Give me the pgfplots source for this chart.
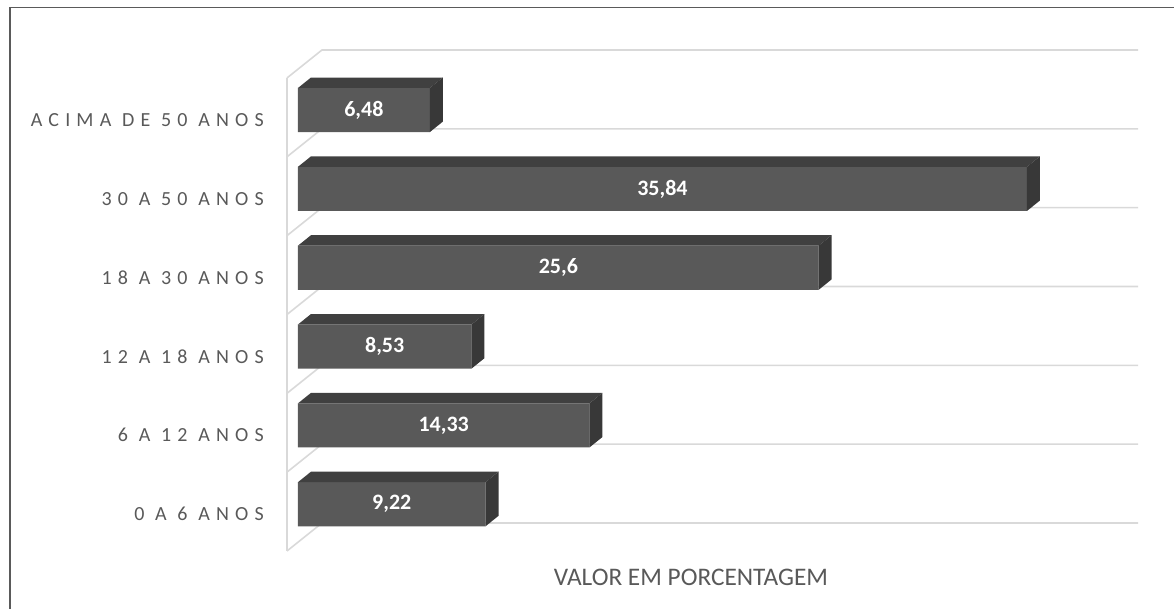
\documentclass[border=0pt]{standalone}
\usepackage{fontspec}
\setmainfont{Carlito}
\newfontfamily\catfont[LetterSpace=31]{Carlito}
\usepackage{pgfplots}
\usepackage{pgfplotstable}
\pgfplotsset{compat=1.18}
\definecolor{frontc}{HTML}{595959}
\definecolor{topc}{HTML}{404040}
\definecolor{sidec}{HTML}{383838}
\definecolor{gridc}{HTML}{D9D9D9}
\definecolor{labc}{HTML}{595959}
\definecolor{framec}{HTML}{5A5A5A}

\pgfplotstableread[col sep=semicolon]{
cat;value;lab
0 A 6 ANOS;9.22;9,22
6 A 12 ANOS;14.33;14,33
12 A 18 ANOS;8.53;8,53
18 A 30 ANOS;25.6;25,6
30 A 50 ANOS;35.84;35,84
ACIMA DE 50 ANOS;6.48;6,48
}\data

\begin{document}
\begin{tikzpicture}
\path[use as bounding box] (-287pt,-58pt) rectangle (887pt,551pt);
\begin{axis}[
  scale only axis,
  width=851pt, height=501pt,
  xmin=-0.54, xmax=41.3, ymin=0, ymax=6.355,
  axis line style={draw=none},
  xtick=\empty,
  ytick={0.47,1.47,2.47,3.47,4.47,5.47},
  yticklabels from table={\data}{cat},
  major tick length=0pt,
  yticklabel style={anchor=east, inner sep=0pt, xshift=-23pt,
    font=\catfont\fontsize{20}{22}\selectfont, text=labc},
  clip=false,
]
% walls
\addplot[gridc, line width=1.6pt] coordinates {(-0.54,0) (-0.54,6)};
\pgfplotsforeachungrouped \k in {0,...,6}{
  \pgfmathsetmacro\yf{\k}
  \pgfmathsetmacro\yb{\k+0.355}
  \edef\tmp{\noexpand\addplot[gridc, line width=1.6pt] coordinates {(-0.54,\yf) (1.18,\yb) (41.3,\yb)};}
  \tmp
}
% front faces
\addplot[xbar, bar width=0.56, bar shift=0pt, fill=frontc, draw=none]
  table[x=value, y expr=\coordindex+0.593] {\data};
% top and side faces
\pgfplotsforeachungrouped \i in {0,...,5}{
  \pgfplotstablegetelem{\i}{value}\of{\data}
  \pgfmathsetmacro\v{\pgfplotsretval}
  \pgfmathsetmacro\vr{\v+0.64}
  \pgfmathsetmacro\yb{\i+0.313}
  \pgfmathsetmacro\yt{\i+0.873}
  \pgfmathsetmacro\ybb{\i+0.446}
  \pgfmathsetmacro\ytb{\i+1.006}
  \edef\tmp{\noexpand\addplot[fill=topc, draw=none] coordinates {(0,\yt) (\v,\yt) (\vr,\ytb) (0.64,\ytb)} --cycle;}
  \tmp
  \edef\tmp{\noexpand\addplot[fill=sidec, draw=none] coordinates {(\v,\yb) (\vr,\ybb) (\vr,\ytb) (\v,\yt)} --cycle;}
  \tmp
}
% value labels
\addplot[draw=none, mark=none, nodes near coords={\pgfplotspointmeta},
  point meta=explicit symbolic,
  every node near coord/.append style={anchor=center, text=white,
    font=\bfseries\fontsize{22}{24}\selectfont}]
  table[x expr=\thisrow{value}/2, y expr=\coordindex+0.593, meta=lab] {\data};
\node[font=\fontsize{25.3}{27}\selectfont, text=labc] at (axis cs:19.32,-0.33) {VALOR EM PORCENTAGEM};
\end{axis}
\draw[framec, line width=1.5pt] (-277pt,-70pt) -- (-277pt,543.5pt) -- (900pt,543.5pt);
\end{tikzpicture}
\end{document}
